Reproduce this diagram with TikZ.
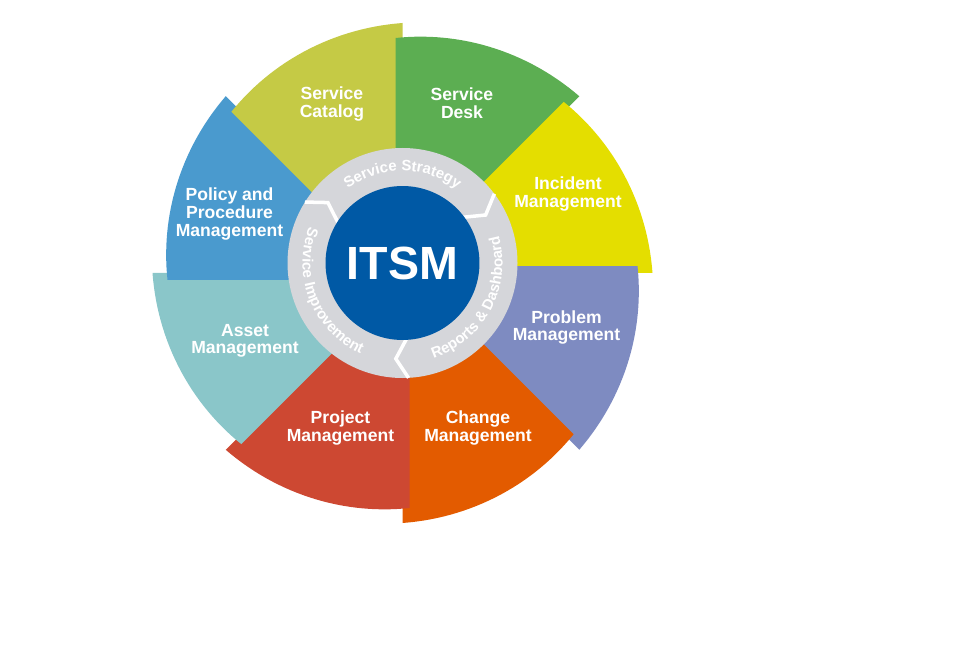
\documentclass[tikz,border=0pt]{standalone}
\usepackage{fontspec}
\setmainfont{Liberation Sans}
\usetikzlibrary{calc, decorations.text}
\definecolor{problemcol}{HTML}{7E8BC1}
\definecolor{changecol}{HTML}{E35B00}
\definecolor{projectcol}{HTML}{CD4832}
\definecolor{assetcol}{HTML}{8AC6C9}
\definecolor{policycol}{HTML}{4A9ACE}
\definecolor{catalogcol}{HTML}{C5CA45}
\definecolor{deskcol}{HTML}{5CAE52}
\definecolor{incidentcol}{HTML}{E4DE00}
\definecolor{ringcol}{HTML}{D5D6DA}
\definecolor{itsmcol}{HTML}{0059A5}
\tikzset{
    sectorlabel/.style={text=white, font=\bfseries\fontsize{10}{10}\selectfont, align=center, inner sep=0pt},
    hub/.style={circle, fill=itsmcol, minimum size=3.08cm, inner sep=0pt, text=white, font=\bfseries\fontsize{26.5}{30}\selectfont},
    ringtext/.style={decorate, decoration={text along path, text align=center, text={|\bfseries\fontsize{8.5}{8.5}\selectfont\color{white}|#1}}},
    chevron/.style={draw=white, line width=2pt, line join=miter}
}

\begin{document}
\begin{tikzpicture}[x=0.02cm, y=0.02cm]
  \useasboundingbox (0,0) rectangle (980,660);
  \coordinate (O) at (402.5,387);
  \coordinate (C) at (402.5,397);

  \begin{scope}[shift={(O)}]
    \foreach \k/\col in {7/problemcol, 6/changecol, 5/projectcol, 4/assetcol, 3/policycol, 2/catalogcol, 1/deskcol, 0/incidentcol}{
      \pgfmathsetmacro\ta{45*\k}
      \pgfmathsetmacro\tb{\ta+46.706}
      \fill[\col] (0,0) -- (\ta:250) -- plot[domain=\ta:\tb, samples=30, variable=\a] (\a:{250-14.9*(\a-\ta)/46.706}) -- (\ta+135:7) -- cycle;
    }
    \begin{scope}
      \clip (0,0) rectangle (260,20);
      \fill[problemcol] (0,0) -- (315:250) -- plot[domain=315:361.706, samples=30, variable=\a] (\a:{250-14.9*(\a-315)/46.706}) -- (90:7) -- cycle;
    \end{scope}
  \end{scope}

  \fill[ringcol] (C) circle (115);
  \begin{scope}[shift={(C)}]
    \draw[chevron] (148:115) -- (141:96) -- (148:76);
    \draw[chevron] (37:115) -- (30:96) -- (37:76);
    \draw[chevron] (273:115) -- (266:96) -- (273:76);
  \end{scope}
  \node(itsm)[hub] at (C) {ITSM};
  \begin{scope}[shift={(C)}]
    \path[ringtext={Service Strategy}] (135:92) arc[start angle=135, end angle=45, radius=92];
    \path[ringtext={Reports {\&} Dashboard}] (272:100) arc[start angle=272, end angle=392, radius=100];
    \path[ringtext={Service Improvement}] (148:100) arc[start angle=148, end angle=256, radius=100];
  \end{scope}

  \node(catalog)[sectorlabel] at (332,556) {Service\\Catalog};
  \node(desk)[sectorlabel] at (462,557) {Service\\Desk};
  \node(incident)[sectorlabel] at (568,466) {Incident\\Management};
  \node(problem)[sectorlabel] at (566.5,332.5) {Problem\\Management};
  \node(change)[sectorlabel] at (478,232) {Change\\Management};
  \node(project)[sectorlabel] at (340.5,232) {Project\\Management};
  \node(asset)[sectorlabel] at (245,319) {Asset\\Management};
  \node(policy)[sectorlabel] at (229.5,446) {Policy and\\Procedure\\Management};
\end{tikzpicture}
\end{document}
